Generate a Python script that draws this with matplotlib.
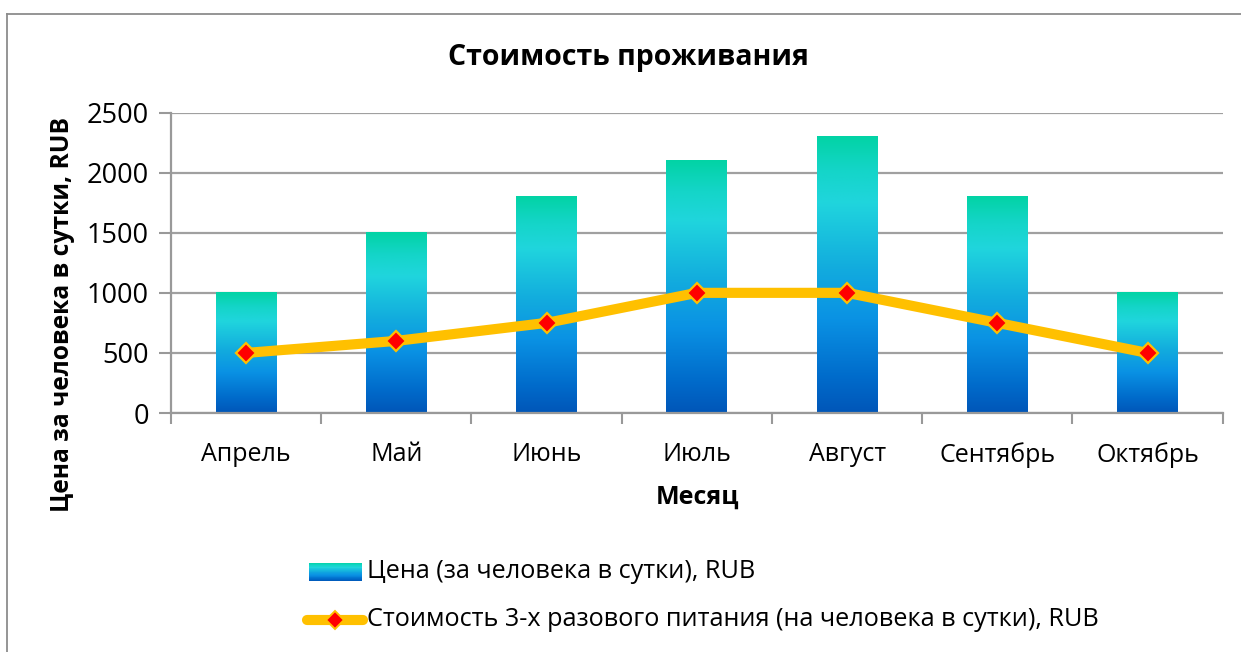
import numpy as np
import matplotlib
matplotlib.use("Agg")
import matplotlib.pyplot as plt
from matplotlib.colors import LinearSegmentedColormap
from matplotlib.patches import Rectangle
from matplotlib.lines import Line2D

plt.rcParams['font.family'] = ['Open Sans', 'DejaVu Sans']

# ---- data ----
months = ["Апрель", "Май", "Июнь", "Июль", "Август", "Сентябрь", "Октябрь"]
price = [1000, 1500, 1800, 2100, 2300, 1800, 1000]
food = [500, 600, 750, 1000, 1000, 750, 500]
yticks = [0, 500, 1000, 1500, 2000, 2500]
title = "Стоимость проживания"
xlabel = "Месяц"
ylabel = "Цена за человека в сутки, RUB"
label_price = "Цена (за человека в сутки), RUB"
label_food = "Стоимость 3-х разового питания (на человека в сутки), RUB"

W, H = 1241, 652
fig = plt.figure(figsize=(W / 100, H / 100), dpi=100)
fig.patch.set_facecolor('white')

def fx(px):
    return px / W

def fy(py):
    return 1 - py / H

ax = fig.add_axes([fx(171), fy(413), fx(1222.7) - fx(171), fy(112.6) - fy(413)])

cmap = LinearSegmentedColormap.from_list("grad", [
    (0.0, "#0056B8"),
    (0.12, "#006ACA"),
    (0.34, "#0A92E4"),
    (0.52, "#12ABDE"),
    (0.76, "#20D5DD"),
    (0.88, "#14D5C8"),
    (1.0, "#02D3A5"),
])
grad = np.linspace(0, 1, 256).reshape(-1, 1)

x = np.arange(len(months))
bars = ax.bar(x, price, width=0.405, color='none', edgecolor='none', zorder=2)
for b in bars:
    x0, w, h = b.get_x(), b.get_width(), b.get_height()
    ax.imshow(grad, cmap=cmap, origin='lower', aspect='auto',
              extent=[x0, x0 + w, 0, h], zorder=2, interpolation='bilinear')

ax.plot(x, food, color='#FFC000', lw=7.3, solid_capstyle='round', zorder=3,
        marker='D', markersize=10.5, markerfacecolor='#FF0000',
        markeredgecolor='#FFC000', markeredgewidth=1.6)

ax.set_xlim(-0.5, len(months) - 0.5)
ax.set_ylim(0, 2500)
ax.set_yticks(yticks)
ax.set_yticklabels([str(v) for v in yticks], fontsize=19.5)
ax.set_xticks(x)
ax.set_xticklabels(months, fontsize=18)
ax.set_xticks(np.arange(-0.5, len(months)), minor=True)
ax.tick_params(axis='x', which='major', length=0, pad=21)
ax.tick_params(axis='x', which='minor', length=8, width=1.5, color='#999999')
ax.tick_params(axis='y', length=9, width=1.5, color='#999999', pad=7)

ax.grid(axis='y', color='#A0A0A0', lw=1.6, zorder=1)
ax.set_axisbelow(True)
for s in ['top', 'right']:
    ax.spines[s].set_visible(False)
for s in ['left', 'bottom']:
    ax.spines[s].set_color('#999999')
    ax.spines[s].set_linewidth(1.6)
ax.spines['bottom'].set_zorder(4)

# title and axis labels
fig.text(fx(628), fy(57), title, ha='center', va='center', fontsize=20.5, fontweight='bold')
fig.text(fx(697), fy(497), xlabel, ha='center', va='center', fontsize=18, fontweight='bold')
fig.text(fx(63), fy(315), ylabel, ha='center', va='center', rotation=90, fontsize=17.7, fontweight='bold')

# outer frame
fig.add_artist(Line2D([fx(7), 1], [fy(14), fy(14)], color='#8C8C8C', lw=1.3))
fig.add_artist(Line2D([fx(7), fx(7)], [fy(14), 0], color='#8C8C8C', lw=1.3))

# legend (manual)
nstrip = 40
for i in range(nstrip):
    fig.add_artist(Rectangle((fx(309), fy(581 - i * 18 / nstrip)), fx(362) - fx(309),
                             (18 / nstrip) / H, facecolor=cmap((i + 0.5) / nstrip),
                             edgecolor='none', transform=fig.transFigure))
fig.text(fx(367), fy(572), label_price, ha='left', va='center', fontsize=18.2)
fig.add_artist(Line2D([fx(307), fx(363)], [fy(620), fy(620)], color='#FFC000', lw=7.3,
                      solid_capstyle='round'))
fig.add_artist(Line2D([fx(335)], [fy(620)], marker='D', markersize=9,
                      markerfacecolor='#FF0000', markeredgecolor='#FFC000',
                      markeredgewidth=1.4, linestyle='none'))
fig.text(fx(367), fy(620), label_food, ha='left', va='center', fontsize=18.2)

fig.savefig("out.png", dpi=100)
